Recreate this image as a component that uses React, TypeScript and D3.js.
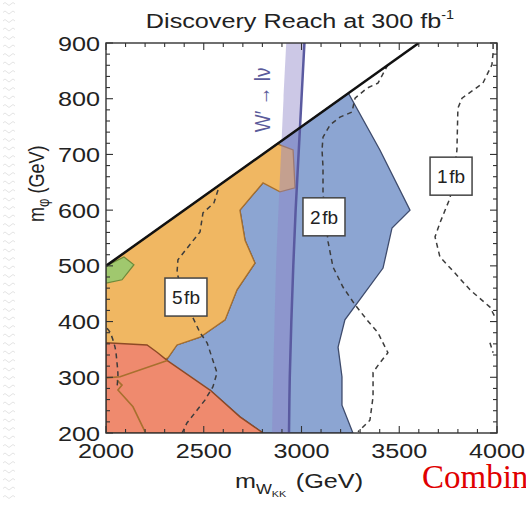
import * as d3 from "d3";

// plot frame (px)
const W = 526;
const H = 505;
const LEFT = 106;
const RIGHT = 497;
const TOP = 43;
const BOTTOM = 433;

const X_DOMAIN = [2000, 4000];
const Y_DOMAIN = [200, 900];

// regions, [mWKK, mPhi]
const kinematicLine: [number, number][] = [
  [2000, 500],
  [3600, 900],
];

const blueRegion: [number, number][] = [
  [2317, 335], [2363, 358], [2481, 372], [2609, 403], [2670, 457],
  [2762, 505], [2711, 546], [2685, 600], [2803, 649], [2880, 720],
  [3240, 810], [3401, 708], [3555, 600], [3463, 568], [3417, 496],
  [3222, 403], [3187, 354], [3207, 301], [3207, 250], [3263, 200],
  [2803, 200], [2685, 229], [2532, 277], [2250, 300],
];

const orangeRegion: [number, number][] = [
  [2000, 500], [2875, 719], [2957, 708], [2967, 640], [2890, 633],
  [2803, 649], [2685, 600], [2711, 546], [2762, 505], [2670, 457],
  [2609, 403], [2481, 372], [2363, 358], [2317, 335], [2072, 301],
  [2000, 299],
];

const greenRegion: [number, number][] = [
  [2000, 500], [2092, 516], [2143, 502], [2082, 475], [2000, 469],
];

const redRegion: [number, number][] = [
  [2000, 362], [2210, 358], [2261, 345], [2314, 330], [2532, 277],
  [2685, 229], [2803, 200], [2000, 200],
];

const innerEdgeA: [number, number][] = [
  [2005, 299], [2072, 301], [2314, 330],
];
const innerEdgeB: [number, number][] = [
  [2056, 295], [2082, 286], [2061, 277], [2138, 247], [2200, 202],
];

// dashed contours
const contour10: [number, number][] = [
  [2005, 388], [2020, 381], [2046, 354], [2056, 327], [2061, 304], [2056, 281],
];
const contour5: [number, number][] = [
  [2573, 636], [2552, 613], [2496, 595], [2481, 561], [2368, 511],
  [2363, 487], [2419, 426], [2481, 380], [2517, 362], [2568, 308],
  [2547, 283], [2506, 259], [2414, 218], [2389, 200],
];
const contour2: [number, number][] = [
  [3442, 861], [3391, 828], [3335, 819], [3274, 801], [3258, 776],
  [3197, 767], [3146, 753], [3110, 731], [3105, 708], [3110, 677],
  [3110, 631], [3125, 580], [3136, 543], [3161, 498], [3212, 462],
  [3274, 430], [3335, 403], [3391, 380], [3442, 344], [3401, 326],
  [3366, 309], [3366, 265], [3350, 223], [3289, 202],
];
const contour1: [number, number][] = [
  [3980, 898], [3980, 882], [3974, 861], [3928, 828], [3821, 801],
  [3800, 783], [3795, 708], [3780, 665], [3760, 622], [3708, 577],
  [3683, 552], [3708, 516], [3785, 487], [3862, 457], [3964, 426],
  [3990, 408],
];
const contour1b: [number, number][] = [
  [3964, 362], [3980, 344],
];

// W' -> l nu band
const wprimeLine: [number, number][] = [
  [2936, 200], [2940, 300], [2948, 400], [2958, 500], [2970, 600],
  [2985, 700], [3000, 800], [3015, 900],
];
const wprimeBandLeft: [number, number][] = [
  [2850, 200], [2855, 300], [2862, 400], [2870, 500], [2882, 600],
  [2895, 700], [2908, 800], [2922, 900],
];

const boxLabels = [
  { text: "5\u200afb", at: [2409, 444] },
  { text: "2\u200afb", at: [3115, 588] },
  { text: "1\u200afb", at: [3765, 661] },
];
const wprimeLabelAt = [2803, 798];

const xTickLabels = [2000, 2500, 3000, 3500, 4000];
const yTickLabels = [200, 300, 400, 500, 600, 700, 800, 900];

const FONT = "'Liberation Sans', Arial, sans-serif";
const SX = 1.2;

const STextProps = (x: number, y: number) => ({
  transform: `translate(${x},${y}) scale(${SX},1)`,
});

export default function App() {
  const x = d3.scaleLinear().domain(X_DOMAIN).range([LEFT, RIGHT]);
  const y = d3.scaleLinear().domain(Y_DOMAIN).range([BOTTOM, TOP]);

  const line = d3
    .line<[number, number]>()
    .x((d) => x(d[0]))
    .y((d) => y(d[1]));
  const smooth = d3
    .line<[number, number]>()
    .x((d) => x(d[0]))
    .y((d) => y(d[1]))
    .curve(d3.curveCatmullRom);
  const poly = (pts: [number, number][]) => line(pts) + "Z";

  const band = d3
    .area<number>()
    .y((_, i) => y(wprimeLine[i][1]))
    .x0((_, i) => x(wprimeBandLeft[i][0]))
    .x1((_, i) => x(wprimeLine[i][0]))
    .curve(d3.curveCatmullRom);

  const xTicks = d3.range(X_DOMAIN[0], X_DOMAIN[1] + 1, 100);
  const yTicks = d3.range(Y_DOMAIN[0], Y_DOMAIN[1] + 1, 20);

  const dash = {
    fill: "none",
    stroke: "#3c3c3c",
    strokeWidth: 1.5,
    strokeDasharray: "5,4",
  };

  return (
    <svg
      width={W}
      height={H}
      style={{ position: "absolute", left: 0, top: 0, background: "#fff" }}
      fontFamily={FONT}
    >
      <defs>
        <clipPath id="plot">
          <rect x={LEFT} y={TOP} width={RIGHT - LEFT} height={BOTTOM - TOP} />
        </clipPath>
      </defs>

      {/* faint page pattern at left edge */}
      <g stroke="#e4e4e4" strokeWidth={1} fill="none">
        {d3.range(4, H, 8.5).map((v) => (
          <path key={v} d={`M3,${v} q2,-3 4,0 t4,0 t4,0`} />
        ))}
      </g>

      <g clipPath="url(#plot)">
        <path d={poly(blueRegion)} fill="#8ca5d2" stroke="#3e4b6c" strokeWidth={1.3} />
        <path d={poly(orangeRegion)} fill="#f0b762" stroke="#a8702e" strokeWidth={1.3} />
        <path d={poly(greenRegion)} fill="#a0c86e" stroke="#6d8a3a" strokeWidth={1.2} />
        <path d={poly(redRegion)} fill="#ef8a6e" stroke="#8e4a26" strokeWidth={1.4} />
        <path d={line(innerEdgeA)!} fill="none" stroke="#a8702e" strokeWidth={1.6} />
        <path d={line(innerEdgeB)!} fill="none" stroke="#a8702e" strokeWidth={1.6} />

        <path d={smooth(contour10)!} {...dash} />
        <path d={line(contour5)!} {...dash} />
        <path d={line(contour2)!} {...dash} />
        <path d={line(contour1)!} {...dash} />
        <path d={line(contour1b)!} {...dash} />

        <path d={band(wprimeLine.map((d) => d[0]))!} fill="#8e85c8" fillOpacity={0.45} />
        <path d={smooth(wprimeLine)!} fill="none" stroke="#5a5aa0" strokeWidth={2.5} />

        <path d={line(kinematicLine)!} fill="none" stroke="#111" strokeWidth={2.5} />
      </g>

      <text
        transform={`translate(${x(wprimeLabelAt[0]) + 7},${y(wprimeLabelAt[1])}) scale(${SX},1) rotate(-90)`}
        textAnchor="middle"
        fontSize={19}
        fill="#5a5a9a"
      >
        W′ → lν
      </text>

      {boxLabels.map((b) => (
        <g key={b.text} transform={`translate(${x(b.at[0])},${y(b.at[1])})`}>
          <rect x={-21} y={-19} width={42} height={38} fill="#fff" stroke="#444" strokeWidth={1.5} />
          <text y={7} textAnchor="middle" fontSize={19} fill="#222">
            {b.text}
          </text>
        </g>
      ))}

      {/* frame and ticks */}
      <g stroke="#333" strokeWidth={1.1}>
        {xTicks.map((t) => {
          const len = t % 500 === 0 ? 7 : 4;
          return (
            <g key={"x" + t}>
              <line x1={x(t)} x2={x(t)} y1={BOTTOM} y2={BOTTOM - len} />
              <line x1={x(t)} x2={x(t)} y1={TOP} y2={TOP + len} />
            </g>
          );
        })}
        {yTicks.map((t) => {
          const len = t % 100 === 0 ? 7 : 4;
          return (
            <g key={"y" + t}>
              <line x1={LEFT} x2={LEFT + len} y1={y(t)} y2={y(t)} />
              <line x1={RIGHT} x2={RIGHT - len} y1={y(t)} y2={y(t)} />
            </g>
          );
        })}
        <rect x={LEFT} y={TOP} width={RIGHT - LEFT} height={BOTTOM - TOP} fill="none" strokeWidth={1.4} />
      </g>

      <g fontSize={21} fill="#222">
        {xTickLabels.map((t) => (
          <text key={"xl" + t} {...STextProps(x(t), 458)} textAnchor="middle">
            {t}
          </text>
        ))}
        {yTickLabels.map((t) => (
          <text key={"yl" + t} {...STextProps(100, y(t) + 7.5)} textAnchor="end">
            {t}
          </text>
        ))}
      </g>

      <text {...STextProps(300, 28)} textAnchor="middle" fontSize={21} fill="#222">
        Discovery Reach at 300 fb
        <tspan fontSize={12} dy={-9}>
          -1
        </tspan>
      </text>

      <text {...STextProps(235, 488)} fontSize={21} fill="#222">
        m
        <tspan fontSize={14} dy={6}>W</tspan>
        <tspan fontSize={9} dy={3}>KK</tspan>
        <tspan fontSize={21} dy={-9} dx={8}>(GeV)</tspan>
      </text>

      <text
        transform={`translate(44,222) scale(${SX},1) rotate(-90)`}
        fontSize={18}
        fill="#222"
      >
        m
        <tspan fontSize={13} dy={4}>φ</tspan>
        <tspan fontSize={18} dy={-4} dx={5}>(GeV)</tspan>
      </text>

      <text x={422} y={488} fontFamily="'Liberation Serif', 'Times New Roman', serif" fontSize={33} fill="#e00000">
        Combin
      </text>
    </svg>
  );
}
